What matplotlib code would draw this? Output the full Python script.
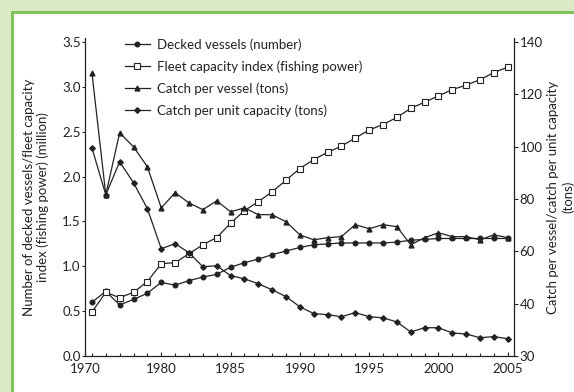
import numpy as np
import matplotlib
matplotlib.use("Agg")
from matplotlib import pyplot as plt
from matplotlib.patches import Rectangle
from matplotlib.ticker import FormatStrFormatter, MultipleLocator

# Fleet and catch series, 1975-2005
years = list(range(1975, 2006))

decked_vessels = [0.60, 0.72, 0.57, 0.63, 0.70, 0.82, 0.79, 0.84, 0.88, 0.91,
                  0.99, 1.04, 1.08, 1.13, 1.17, 1.21, 1.24, 1.25, 1.26, 1.26,
                  1.26, 1.26, 1.27, 1.29, 1.30, 1.31, 1.31, 1.31, 1.31, 1.31,
                  1.31]
fleet_capacity = [0.49, 0.71, 0.65, 0.71, 0.83, 1.03, 1.04, 1.14, 1.24, 1.32,
                  1.48, 1.62, 1.72, 1.83, 1.96, 2.09, 2.19, 2.27, 2.34, 2.43,
                  2.52, 2.58, 2.66, 2.76, 2.83, 2.90, 2.97, 3.02, 3.08, 3.16,
                  3.22]
catch_per_vessel = [128.2, 81.6, 105.3, 99.9, 92.3, 76.6, 82.4, 78.5, 75.9, 79.3,
                    75.1, 76.6, 74.0, 74.0, 71.3, 66.3, 64.4, 65.2, 65.6, 70.2,
                    68.6, 70.2, 69.4, 62.5, 65.2, 67.1, 65.6, 65.6, 64.4, 66.3,
                    65.2]
catch_per_capacity = [99.5, 81.6, 94.2, 86.2, 76.3, 61.0, 62.9, 59.5, 54.1, 54.5,
                      50.7, 49.5, 47.6, 45.3, 42.7, 39.4, 38.1, 37.9, 37.5, 38.3,
                      37.5, 37.3, 36.5, 34.6, 35.4, 35.4, 34.4, 34.2, 33.5, 33.7,
                      33.3]

x_ticks = [1980, 1985, 1990, 1995, 2000, 2005]
x_tick_labels = ["1980", "1985", "1990", "1995", "2000", "2005"]
first_x_label = "1970"
right_ticks = [30, 40, 60, 80, 100, 120, 140]

plt.rcParams['font.family'] = ['Lato', 'DejaVu Sans']
plt.rcParams['font.size'] = 9.5
ink = '#222222'

fig = plt.figure(figsize=(5.74, 3.92), dpi=100)
fig.patch.set_facecolor('#dce9c6')
# white panel with the green frame along top and left
fig.add_artist(Rectangle((12 / 574, -0.2), 1.2, (392 - 12) / 392 + 0.2,
                         transform=fig.transFigure, facecolor='white',
                         edgecolor='#7ec35c', linewidth=2.2, zorder=-5))

ax = fig.add_axes([85 / 574, 36 / 392, 429 / 574, 318 / 392])
ax2 = ax.twinx()

# right axis is stretched below 40
def fwd(v):
    v = np.asarray(v, dtype=float)
    return np.where(v < 40, 40 - (40 - v) * 2, v)

def inv(u):
    u = np.asarray(u, dtype=float)
    return np.where(u < 40, 40 - (40 - u) / 2, u)

ax2.set_yscale('function', functions=(fwd, inv))

l1, = ax.plot(years, decked_vessels, color=ink, lw=0.9, marker='o', ms=3.3,
              label='Decked vessels (number)')
l2, = ax.plot(years, fleet_capacity, color=ink, lw=0.9, marker='s', ms=4.2,
              mfc='white', mew=0.8, label='Fleet capacity index (fishing power)')
l3, = ax2.plot(years, catch_per_vessel, color=ink, lw=0.9, marker='^', ms=3.5,
               label='Catch per vessel (tons)')
l4, = ax2.plot(years, catch_per_capacity, color=ink, lw=0.9, marker='D', ms=2.8,
               label='Catch per unit capacity (tons)')

ax.set_xlim(1974.5, 2005.45)
ax.set_ylim(0, 3.545)
ax2.set_ylim(30, 141.5)

ax.set_xticks([1974.5] + x_ticks)
ax.set_xticklabels([first_x_label] + x_tick_labels)
ax.xaxis.set_minor_locator(MultipleLocator(1))
ax.tick_params(axis='x', direction='in', length=3, width=0.8, colors=ink, pad=5)
ax.tick_params(axis='x', which='minor', direction='in', length=2.5, width=0.8, color=ink)

ax.yaxis.set_major_locator(MultipleLocator(0.5))
ax.yaxis.set_major_formatter(FormatStrFormatter('%.1f'))
ax.tick_params(axis='y', direction='out', length=2, width=0.8, colors=ink, pad=1)

ax2.set_yticks(right_ticks)
ax2.set_yticklabels([str(t) for t in right_ticks])
ax2.yaxis.set_minor_locator(plt.NullLocator())
ax2.tick_params(axis='y', direction='out', length=3, width=0.8, colors=ink, pad=1)

for a in (ax, ax2):
    a.spines['top'].set_visible(False)
    for s in a.spines.values():
        s.set_color(ink)
        s.set_linewidth(0.9)
ax.spines['right'].set_visible(False)
ax2.spines['left'].set_visible(False)
ax2.spines['bottom'].set_visible(False)

ax.set_ylabel('Number of decked vessels/fleet capacity\nindex (fishing power) (million)',
              color=ink, linespacing=1.1)
ax.yaxis.set_label_coords(-0.085, 0.5)
ax2.set_ylabel('Catch per vessel/catch per unit capacity\n(tons)',
               color=ink, linespacing=1.2, rotation=90)
ax2.yaxis.set_label_coords(1.078, 0.5)

ax.legend(handles=[l1, l2, l3, l4], loc='upper left', bbox_to_anchor=(0.093, 1.0),
          frameon=False, borderpad=0, borderaxespad=0, handlelength=1.9,
          handletextpad=0.5, labelspacing=0.72, labelcolor=ink)

fig.savefig('out.png', dpi=100)
